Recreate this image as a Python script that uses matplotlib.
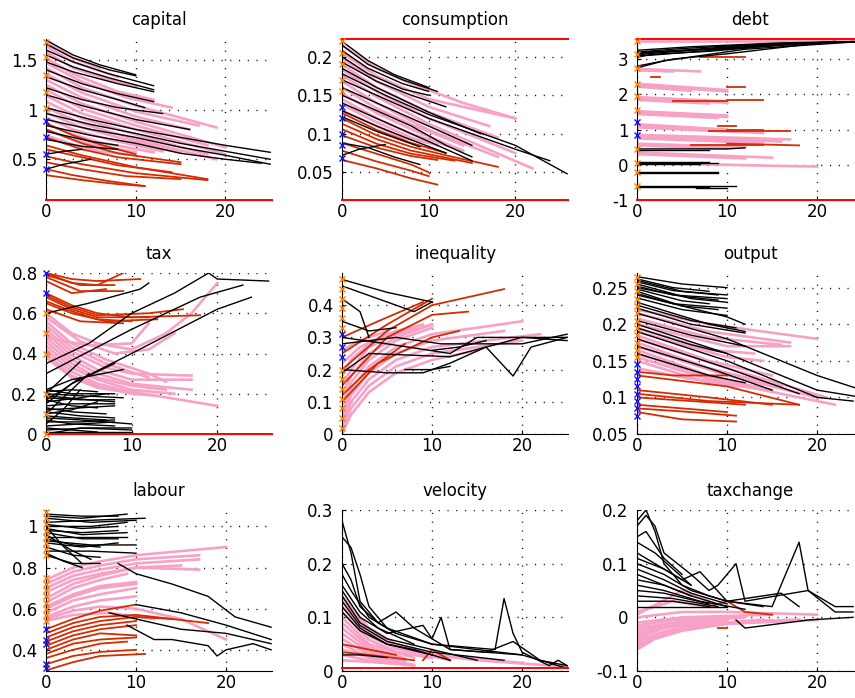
import matplotlib
matplotlib.use("Agg")
import matplotlib.pyplot as plt
from matplotlib.ticker import FormatStrFormatter

plt.rcParams['font.family'] = ['DejaVu Sans']
plt.rcParams['font.size'] = 12

BLACK = '#000000'
PINK = '#F7A1C6'
RED = '#D42C00'
BOUND = '#FF0000'
ORANGE = '#FF8000'
BLUE = '#1010FF'

# ---------------- capital ----------------
capital_black = [
    [(0, 1.70), (3, 1.55), (6, 1.45), (10, 1.35)],
    [(0, 1.66), (3, 1.52), (7, 1.40), (10, 1.34)],
    [(0, 1.60), (3, 1.48), (7, 1.36), (12, 1.24)],
    [(0, 1.55), (3, 1.43), (7, 1.32), (12, 1.20)],
    [(0, 1.48), (3, 1.38), (8, 1.26), (12, 1.18)],
    [(0, 1.40), (4, 1.26), (8, 1.16), (12, 1.08)],
    [(0, 1.33), (4, 1.20), (8, 1.10), (11, 1.02)],
    [(0, 1.22), (4, 1.10), (8, 1.02), (13, 0.96)],
    [(0, 1.15), (4, 1.04), (10, 0.90), (16, 0.80)],
    [(0, 1.02), (5, 0.90), (10, 0.80), (15, 0.72), (20, 0.64), (25, 0.57)],
    [(0, 0.96), (5, 0.85), (10, 0.76), (15, 0.66), (20, 0.58), (25, 0.50)],
    [(0, 0.90), (5, 0.80), (10, 0.72), (15, 0.62), (20, 0.54), (25, 0.45)],
    [(0, 0.84), (5, 0.74), (10, 0.66), (15, 0.56), (20, 0.50), (24, 0.46)],
    [(0, 0.78), (5, 0.68), (8, 0.64)],
    [(0, 0.70), (4, 0.63), (8, 0.60)],
    [(0, 0.55), (2, 0.58), (4, 0.60)],
    [(0, 0.40), (2, 0.45), (5, 0.50)],
]
capital_pink = [
    [(0, 1.68), (3, 1.52), (6, 1.42)],
    [(0, 1.64), (3, 1.48), (8, 1.33)],
    [(0, 1.58), (3, 1.42), (7, 1.30), (10, 1.24)],
    [(0, 1.52), (3, 1.36), (8, 1.18), (12, 1.10)],
    [(0, 1.47), (4, 1.28), (9, 1.12), (14, 1.02)],
    [(0, 1.42), (4, 1.22), (10, 1.04), (19, 0.82)],
    [(0, 1.36), (4, 1.17), (10, 0.98), (17, 0.84)],
    [(0, 1.30), (4, 1.12), (10, 0.93), (16, 0.80)],
    [(0, 1.25), (4, 1.06), (10, 0.88), (20, 0.62)],
    [(0, 1.20), (4, 1.01), (10, 0.84), (18, 0.64)],
    [(0, 1.14), (4, 0.96), (10, 0.80), (20, 0.55)],
    [(0, 1.08), (4, 0.91), (10, 0.75), (18, 0.55)],
    [(0, 1.02), (4, 0.86), (10, 0.70), (19, 0.50)],
    [(0, 0.97), (4, 0.82), (8, 0.72), (15, 0.57)],
    [(0, 0.92), (3, 0.80), (7, 0.70), (13, 0.58)],
    [(0, 0.86), (3, 0.75), (6, 0.67), (12, 0.57)],
    [(0, 0.80), (3, 0.70), (6, 0.63), (10, 0.57)],
    [(0, 0.74), (3, 0.65), (6, 0.58), (9, 0.55)],
]
capital_red = [
    [(0, 0.86), (3, 0.74), (6, 0.65), (10, 0.55)],
    [(0, 0.80), (4, 0.66), (8, 0.56), (15, 0.47)],
    [(0, 0.72), (4, 0.60), (8, 0.52), (15, 0.45)],
    [(0, 0.64), (4, 0.54), (10, 0.42), (18, 0.30)],
    [(0, 0.60), (4, 0.52), (8, 0.44), (14, 0.37)],
    [(0, 0.53), (4, 0.45), (10, 0.36), (18, 0.29)],
    [(0, 0.47), (4, 0.40), (9, 0.33), (15, 0.30)],
    [(0, 0.40), (3, 0.34), (7, 0.28), (11, 0.23)],
    [(0, 0.34), (4, 0.29), (8, 0.25), (11, 0.23)],
]
capital_orange = [1.68, 1.53, 1.35, 1.18, 1.02]
capital_blue = [0.88, 0.72, 0.55, 0.40]
capital_bounds = [0.09]

# ---------------- consumption ----------------
consumption_black = [
    [(0, 0.220), (3, 0.195), (6, 0.177), (10, 0.160)],
    [(0, 0.215), (3, 0.190), (7, 0.170), (11, 0.155)],
    [(0, 0.208), (3, 0.185), (7, 0.165), (10, 0.155)],
    [(0, 0.200), (3, 0.178), (7, 0.158), (10, 0.150)],
    [(0, 0.193), (4, 0.168), (8, 0.150), (12, 0.135)],
    [(0, 0.185), (4, 0.160), (10, 0.128), (16, 0.100)],
    [(0, 0.178), (5, 0.150), (10, 0.125), (15, 0.105), (20, 0.085), (26, 0.048)],
    [(0, 0.170), (5, 0.145), (10, 0.120), (15, 0.100), (20, 0.080), (24, 0.065)],
    [(0, 0.160), (4, 0.140), (8, 0.120), (12, 0.100), (15, 0.085)],
    [(0, 0.150), (4, 0.130), (8, 0.110), (12, 0.085), (15, 0.070)],
    [(0, 0.140), (4, 0.120), (8, 0.100), (13, 0.075), (15, 0.065)],
    [(0, 0.130), (4, 0.110), (8, 0.092), (12, 0.075)],
    [(0, 0.122), (4, 0.103), (9, 0.083)],
    [(0, 0.088), (3, 0.082), (6, 0.070), (9, 0.060)],
    [(0, 0.072), (2, 0.080), (5, 0.086)],
]
consumption_pink = [
    [(0, 0.215), (4, 0.185), (8, 0.165), (14, 0.140), (20, 0.120)],
    [(0, 0.205), (4, 0.175), (10, 0.145), (20, 0.120)],
    [(0, 0.198), (4, 0.168), (10, 0.135), (17, 0.110)],
    [(0, 0.190), (4, 0.160), (10, 0.128), (18, 0.095)],
    [(0, 0.183), (4, 0.155), (10, 0.120), (20, 0.075)],
    [(0, 0.176), (4, 0.148), (10, 0.113), (22, 0.055)],
    [(0, 0.168), (4, 0.140), (10, 0.105), (18, 0.070)],
    [(0, 0.160), (4, 0.133), (8, 0.112), (14, 0.085)],
    [(0, 0.152), (4, 0.127), (8, 0.106), (14, 0.078)],
    [(0, 0.145), (4, 0.120), (8, 0.100), (12, 0.085)],
    [(0, 0.138), (4, 0.115), (8, 0.095), (11, 0.085)],
    [(0, 0.130), (4, 0.110), (7, 0.095), (10, 0.088)],
]
consumption_red = [
    [(0, 0.127), (4, 0.105), (8, 0.088), (12, 0.075)],
    [(0, 0.120), (4, 0.098), (8, 0.083), (12, 0.072), (18, 0.057)],
    [(0, 0.113), (4, 0.093), (8, 0.078), (15, 0.062)],
    [(0, 0.106), (4, 0.087), (8, 0.074), (13, 0.065)],
    [(0, 0.098), (4, 0.082), (8, 0.071), (11, 0.066)],
    [(0, 0.088), (4, 0.074), (8, 0.060), (10, 0.050)],
    [(0, 0.078), (4, 0.064), (8, 0.052), (10, 0.045)],
    [(0, 0.066), (4, 0.055), (8, 0.042), (11, 0.034)],
]
consumption_orange = [0.220, 0.205, 0.190, 0.170, 0.155]
consumption_blue = [0.135, 0.120, 0.100, 0.085, 0.068]
consumption_bounds = [0.014, 0.223]

# ---------------- debt ----------------
debt_black = [
    [(0, 3.05), (1, 3.10), (10, 3.28), (22, 3.50)],
    [(0, 3.08), (2, 3.14), (8, 3.22), (15, 3.38), (24, 3.50)],
    [(0, 3.10), (1, 3.15), (10, 3.32), (22, 3.50)],
    [(0, 3.15), (2, 3.20), (12, 3.38), (25, 3.50)],
    [(0, 3.18), (3, 3.22), (10, 3.30), (18, 3.45)],
    [(0, 3.20), (5, 3.30), (14, 3.42), (25, 3.50)],
    [(0, 3.25), (6, 3.35), (16, 3.46), (25, 3.50)],
    [(0, 2.75), (3, 2.95), (12, 3.28), (25, 3.50)],
    [(0, 2.80), (4, 3.00), (10, 3.15), (20, 3.45)],
    [(0, 0.45), (10, 0.45), (12, 0.48)],
    [(0, 0.42), (8, 0.42)],
    [(0, 0.08), (8, 0.08)],
    [(0, 0.05), (9, 0.05)],
    [(0, 0.02), (7, 0.02)],
    [(0, -0.20), (9, -0.20)],
    [(0, -0.23), (9, -0.23)],
    [(0, -0.60), (11, -0.60)],
    [(0, -0.63), (8, -0.63)],
    [(6.5, -0.66), (10, -0.66)],
]
debt_pink = [
    [(0, 3.50), (25, 3.50)],
    [(0, 2.72), (7, 2.65)],
    [(0, 2.68), (4, 2.65)],
    [(0, 2.30), (10, 2.12)],
    [(0, 2.26), (10, 2.08)],
    [(0, 2.22), (6, 2.10)],
    [(0, 1.92), (10, 1.80)],
    [(0, 1.88), (10, 1.76)],
    [(0, 1.84), (8, 1.74)],
    [(0, 1.52), (10, 1.40)],
    [(0, 1.48), (10, 1.36)],
    [(0, 1.44), (9, 1.33)],
    [(0, 1.15), (10, 1.00)],
    [(0, 1.10), (10, 0.96)],
    [(0, 1.06), (14, 0.90)],
    [(0, 0.85), (17, 0.72)],
    [(0, 0.80), (16, 0.66)],
    [(0, 0.75), (14, 0.62)],
    [(0, 0.60), (12, 0.50)],
    [(0, 0.55), (10, 0.46)],
    [(0, 0.35), (15, 0.20)],
    [(0, 0.30), (12, 0.18)],
    [(0, 0.05), (10, 0.00), (15, -0.03), (20, -0.05)],
]
debt_red = [
    [(7, 3.05), (12, 3.05)],
    [(1.5, 2.50), (2.5, 2.50)],
    [(10, 2.20), (12, 2.20)],
    [(4, 1.80), (10, 1.80)],
    [(10, 1.85), (14, 1.85)],
    [(9, 1.10), (11, 1.10)],
    [(8, 0.95), (17, 0.95)],
    [(10, 1.00), (14, 1.00)],
    [(6, 0.55), (14, 0.55)],
    [(10, 0.60), (18, 0.55)],
]
debt_orange = [3.50, 3.15, 2.75, 2.30, 1.95, 1.55, 0.45, 0.05, -0.20, -0.60]
debt_blue = [1.20, 0.85]
debt_bounds = [-1.0, 3.57]

# ---------------- tax ----------------
tax_black = [
    [(0, 0.35), (5, 0.45), (10, 0.60), (15, 0.70), (19, 0.80), (20, 0.77), (26, 0.76)],
    [(0, 0.30), (10, 0.52), (18, 0.68), (23, 0.74)],
    [(3, 0.25), (10, 0.40), (20, 0.62), (24, 0.68)],
    [(0, 0.60), (5, 0.65), (11, 0.72), (12, 0.75)],
    [(0, 0.22), (3, 0.20), (8, 0.20)],
    [(0, 0.21), (3, 0.22), (6, 0.21)],
    [(0, 0.20), (4, 0.19), (9, 0.18)],
    [(0, 0.19), (5, 0.17), (8, 0.16)],
    [(0, 0.18), (4, 0.17), (8, 0.17)],
    [(0, 0.17), (3, 0.14), (6, 0.13)],
    [(0, 0.16), (4, 0.18), (7, 0.20)],
    [(0, 0.14), (3, 0.15), (8, 0.15)],
    [(0, 0.13), (3, 0.11), (7, 0.10)],
    [(0, 0.12), (4, 0.13), (8, 0.14)],
    [(0, 0.11), (4, 0.09), (8, 0.08)],
    [(0, 0.10), (3, 0.12), (6, 0.16)],
    [(0, 0.09), (3, 0.08), (7, 0.07)],
    [(0, 0.08), (4, 0.07), (10, 0.05)],
    [(0, 0.07), (3, 0.05), (8, 0.04)],
    [(0, 0.06), (4, 0.06), (8, 0.07)],
    [(0, 0.04), (4, 0.05), (8, 0.06)],
    [(0, 0.03), (3, 0.02), (6, 0.01)],
    [(0, 0.02), (5, 0.03), (10, 0.03)],
    [(0, 0.01), (4, 0.01), (10, 0.01)],
    [(0, 0.00), (4, 0.03), (10, 0.02)],
    [(0, 0.10), (2, 0.18), (5, 0.30)],
    [(0, 0.15), (3, 0.25), (8, 0.35)],
    [(0, 0.17), (2, 0.22), (4, 0.28)],
    [(0, 0.20), (2, 0.28), (4, 0.36)],
    [(0, 0.22), (3, 0.27), (9, 0.32)],
    [(0, 0.05), (2, 0.12), (4, 0.22)],
]
tax_pink = [
    [(0, 0.60), (3, 0.50), (6, 0.45), (10, 0.42), (14, 0.50), (17, 0.60), (20, 0.75)],
    [(0, 0.58), (4, 0.46), (8, 0.40), (12, 0.42), (15, 0.50)],
    [(0, 0.56), (3, 0.45), (7, 0.37), (12, 0.30), (14, 0.26)],
    [(0, 0.54), (3, 0.43), (7, 0.35), (12, 0.28)],
    [(0, 0.52), (3, 0.41), (7, 0.33), (10, 0.30), (17, 0.29)],
    [(0, 0.50), (3, 0.39), (6, 0.32), (10, 0.27), (17, 0.27)],
    [(0, 0.48), (3, 0.37), (6, 0.30), (10, 0.25), (17, 0.22)],
    [(0, 0.46), (3, 0.35), (6, 0.28), (10, 0.24), (14, 0.22)],
    [(0, 0.44), (3, 0.33), (6, 0.27), (10, 0.22), (15, 0.20)],
    [(0, 0.42), (3, 0.31), (6, 0.25), (10, 0.21), (20, 0.14)],
    [(0, 0.40), (3, 0.29), (6, 0.24), (10, 0.20), (13, 0.19)],
    [(0, 0.38), (3, 0.28), (6, 0.23), (9, 0.21)],
    [(0, 0.48), (5, 0.44), (10, 0.45), (12, 0.55)],
]
tax_red = [
    [(0, 0.80), (3, 0.77), (6, 0.76), (11, 0.77)],
    [(0, 0.80), (3, 0.75), (6, 0.74), (9, 0.80)],
    [(0, 0.79), (4, 0.74), (8, 0.74)],
    [(0, 0.78), (4, 0.71), (9, 0.71)],
    [(0, 0.76), (3, 0.70), (7, 0.72)],
    [(0, 0.70), (3, 0.64), (6, 0.60), (10, 0.58), (18, 0.59)],
    [(0, 0.69), (3, 0.63), (6, 0.59), (12, 0.60), (16, 0.62)],
    [(0, 0.68), (3, 0.62), (6, 0.58), (12, 0.58)],
    [(0, 0.66), (3, 0.61), (6, 0.57), (10, 0.56)],
    [(0, 0.65), (3, 0.60), (7, 0.56), (13, 0.57)],
    [(0, 0.62), (4, 0.56), (9, 0.55)],
]
tax_orange = [0.60, 0.50, 0.40, 0.20, 0.10, 0.00]
tax_blue = [0.80, 0.70]
tax_bounds = [0.0]

# ---------------- inequality ----------------
inequality_black = [
    [(0, 0.48), (5, 0.44), (10, 0.41)],
    [(0, 0.46), (4, 0.42), (8, 0.38), (10, 0.41)],
    [(0, 0.42), (2, 0.38), (3, 0.30)],
    [(0, 0.30), (5, 0.28), (12, 0.25), (15, 0.30), (25, 0.30)],
    [(0, 0.28), (6, 0.30), (11, 0.28), (20, 0.28), (25, 0.31)],
    [(0, 0.20), (5, 0.19), (9, 0.19), (12, 0.22), (16, 0.27), (19, 0.18), (21, 0.27), (25, 0.30)],
    [(0, 0.19), (3, 0.25), (12, 0.24), (20, 0.30), (25, 0.29)],
    [(7, 0.20), (10, 0.20), (12, 0.21)],
    [(10, 0.26), (13, 0.27), (16, 0.29)],
    [(0, 0.35), (3, 0.32), (6, 0.33)],
]
inequality_pink = [
    [(0, 0.00), (1, 0.06), (3, 0.13), (6, 0.19), (10, 0.23), (15, 0.26)],
    [(0, 0.01), (1, 0.08), (3, 0.15), (6, 0.21), (10, 0.25), (20, 0.29)],
    [(0, 0.02), (1, 0.10), (3, 0.17), (6, 0.23), (10, 0.27), (22, 0.31)],
    [(0, 0.04), (1, 0.12), (3, 0.19), (6, 0.25), (10, 0.29), (18, 0.32)],
    [(0, 0.06), (1, 0.14), (3, 0.21), (6, 0.27), (10, 0.31), (20, 0.35)],
    [(0, 0.09), (1, 0.16), (3, 0.23), (6, 0.29), (10, 0.33)],
    [(0, 0.12), (1, 0.18), (3, 0.25), (6, 0.30), (10, 0.34)],
    [(0, 0.15), (1, 0.20), (3, 0.27), (6, 0.31), (10, 0.34)],
    [(0, 0.18), (1, 0.23), (3, 0.28), (6, 0.32), (9, 0.34)],
    [(0, 0.22), (2, 0.27), (5, 0.31), (8, 0.33)],
    [(0, 0.26), (2, 0.29), (5, 0.32)],
]
inequality_red = [
    [(0, 0.20), (5, 0.32), (10, 0.40), (18, 0.45)],
    [(0, 0.15), (5, 0.30), (10, 0.37), (14, 0.38)],
    [(0, 0.25), (5, 0.34), (10, 0.42)],
    [(0, 0.10), (4, 0.22), (10, 0.30), (13, 0.32)],
    [(0, 0.30), (4, 0.35), (9, 0.41)],
    [(0, 0.12), (3, 0.20), (7, 0.28)],
]
inequality_orange = [0.48, 0.45, 0.42, 0.39, 0.36, 0.33, 0.20, 0.17, 0.14, 0.11, 0.08, 0.05, 0.02]
inequality_blue = [0.31, 0.27, 0.24]
inequality_bounds = []

# ---------------- output ----------------
output_black = [
    [(0, 0.265), (5, 0.255), (10, 0.250)],
    [(0, 0.262), (4, 0.250), (8, 0.245)],
    [(0, 0.260), (5, 0.245), (10, 0.240)],
    [(0, 0.258), (4, 0.246), (9, 0.240)],
    [(0, 0.255), (6, 0.235), (10, 0.230)],
    [(0, 0.252), (4, 0.240), (10, 0.235)],
    [(0, 0.250), (5, 0.238), (9, 0.233)],
    [(0, 0.248), (5, 0.232), (8, 0.228)],
    [(0, 0.245), (5, 0.225), (9, 0.220)],
    [(0, 0.242), (4, 0.228), (10, 0.222)],
    [(0, 0.240), (10, 0.210), (12, 0.200)],
    [(0, 0.236), (5, 0.220), (10, 0.212)],
    [(0, 0.230), (8, 0.200), (12, 0.190)],
    [(0, 0.226), (6, 0.205), (11, 0.195)],
    [(0, 0.222), (6, 0.200), (12, 0.188)],
    [(0, 0.215), (10, 0.180), (20, 0.130), (25, 0.110)],
    [(0, 0.205), (6, 0.185), (12, 0.170)],
    [(0, 0.200), (10, 0.160), (20, 0.110), (25, 0.100)],
    [(0, 0.195), (6, 0.172), (10, 0.160)],
    [(0, 0.190), (10, 0.150), (20, 0.100), (24, 0.095)],
    [(0, 0.180), (10, 0.140), (18, 0.105)],
    [(0, 0.170), (8, 0.140), (15, 0.110)],
    [(0, 0.160), (8, 0.130), (12, 0.120)],
]
output_pink = [
    [(0, 0.220), (8, 0.200), (20, 0.180)],
    [(0, 0.215), (8, 0.190), (17, 0.175)],
    [(0, 0.208), (8, 0.182), (16, 0.172)],
    [(0, 0.200), (10, 0.170), (17, 0.170)],
    [(0, 0.195), (8, 0.165), (13, 0.160)],
    [(0, 0.190), (10, 0.155), (14, 0.150)],
    [(0, 0.185), (8, 0.150), (15, 0.130)],
    [(0, 0.180), (10, 0.140), (21, 0.100)],
    [(0, 0.175), (8, 0.140), (16, 0.115)],
    [(0, 0.170), (10, 0.130), (20, 0.100)],
    [(0, 0.165), (8, 0.130), (14, 0.112)],
    [(0, 0.160), (10, 0.120), (22, 0.090)],
    [(0, 0.155), (8, 0.125), (13, 0.115)],
    [(0, 0.150), (8, 0.120), (15, 0.110)],
    [(0, 0.140), (6, 0.125), (10, 0.120)],
]
output_red = [
    [(0, 0.135), (4, 0.130), (10, 0.130)],
    [(0, 0.130), (10, 0.115), (18, 0.090)],
    [(0, 0.110), (8, 0.100), (15, 0.090)],
    [(0, 0.105), (8, 0.095), (18, 0.090)],
    [(0, 0.100), (6, 0.095), (12, 0.090)],
    [(0, 0.090), (5, 0.085), (10, 0.080)],
    [(0, 0.085), (6, 0.080), (11, 0.075)],
    [(0, 0.080), (5, 0.070), (11, 0.067)],
]
output_orange = [0.265, 0.255, 0.245, 0.235, 0.225, 0.215, 0.205, 0.195, 0.185, 0.175, 0.165, 0.155]
output_blue = [0.145, 0.135, 0.125, 0.115, 0.105, 0.095, 0.085, 0.075]
output_bounds = []

# ---------------- labour ----------------
labour_black = [
    [(0, 1.06), (4, 1.05), (8, 1.05)],
    [(0, 1.05), (4, 1.04), (9, 1.06)],
    [(0, 1.04), (5, 1.02), (10, 1.03)],
    [(0, 1.02), (5, 1.03), (11, 1.04)],
    [(0, 1.01), (4, 0.99), (8, 1.00)],
    [(0, 1.00), (5, 1.00), (9, 1.02)],
    [(0, 0.99), (4, 0.96), (9, 0.97)],
    [(0, 0.98), (4, 0.97), (8, 0.98)],
    [(0, 0.97), (4, 0.94), (8, 0.94)],
    [(0, 0.96), (3, 0.88), (5, 0.84)],
    [(0, 0.95), (5, 0.95), (9, 0.95)],
    [(0, 0.94), (3, 0.91), (6, 0.90)],
    [(0, 0.93), (5, 0.91), (10, 0.91)],
    [(0, 0.92), (4, 0.90), (8, 0.92)],
    [(0, 0.90), (3, 0.86), (6, 0.85)],
    [(0, 0.88), (5, 0.88), (10, 0.87)],
    [(0, 0.87), (2, 0.83), (4, 0.80)],
    [(0, 0.86), (3, 0.82), (6, 0.82)],
    [(0, 1.00), (2, 0.90), (4, 0.82)],
    [(8, 0.82), (10, 0.77), (14, 0.72), (18, 0.66), (21, 0.56), (25, 0.51)],
    [(10, 0.62), (15, 0.58), (20, 0.52), (25, 0.45)],
    [(9, 0.52), (12, 0.45), (14, 0.45), (18, 0.42), (19, 0.37), (20, 0.40), (23, 0.43), (25, 0.40)],
    [(7, 0.58), (10, 0.55), (15, 0.50), (20, 0.48), (25, 0.43)],
]
labour_pink = [
    [(0, 0.74), (3, 0.80), (6, 0.83), (10, 0.86), (20, 0.90)],
    [(0, 0.72), (3, 0.78), (6, 0.81), (10, 0.84), (17, 0.86)],
    [(0, 0.70), (3, 0.76), (6, 0.79), (10, 0.82), (17, 0.84)],
    [(0, 0.68), (3, 0.74), (6, 0.77), (10, 0.80), (15, 0.81)],
    [(0, 0.65), (3, 0.72), (6, 0.76), (10, 0.80), (17, 0.79)],
    [(0, 0.63), (3, 0.70), (6, 0.74), (9, 0.77)],
    [(0, 0.61), (3, 0.67), (6, 0.71), (10, 0.73)],
    [(0, 0.60), (3, 0.66), (6, 0.70), (10, 0.72)],
    [(0, 0.58), (3, 0.64), (6, 0.67), (10, 0.70)],
    [(0, 0.56), (3, 0.61), (6, 0.64), (10, 0.66)],
    [(0, 0.55), (3, 0.59), (6, 0.61), (10, 0.60), (15, 0.55), (20, 0.45)],
    [(0, 0.54), (3, 0.57), (7, 0.58), (12, 0.55)],
]
labour_red = [
    [(0, 0.50), (3, 0.55), (6, 0.59), (10, 0.62)],
    [(0, 0.48), (3, 0.53), (6, 0.56), (10, 0.57), (18, 0.53)],
    [(0, 0.46), (3, 0.51), (6, 0.54), (10, 0.56), (14, 0.55)],
    [(0, 0.44), (3, 0.49), (6, 0.52), (10, 0.54)],
    [(0, 0.42), (3, 0.47), (6, 0.50), (10, 0.52)],
    [(0, 0.40), (3, 0.45), (6, 0.48), (10, 0.47)],
    [(0, 0.38), (3, 0.43), (6, 0.45), (10, 0.46)],
    [(0, 0.36), (3, 0.40), (6, 0.43), (9, 0.44)],
    [(0, 0.33), (3, 0.37), (6, 0.39), (10, 0.40)],
    [(0, 0.30), (3, 0.34), (6, 0.37), (11, 0.38)],
]
labour_orange = [1.07, 1.04, 1.01, 0.98, 0.95, 0.92, 0.89, 0.86, 0.75, 0.72, 0.69, 0.66, 0.63, 0.60, 0.57, 0.54]
labour_blue = [0.50, 0.45, 0.43, 0.33, 0.31]
labour_bounds = []

# ---------------- velocity ----------------
velocity_black = [
    [(0, 0.28), (1, 0.22), (2, 0.13), (4, 0.09), (6, 0.07), (10, 0.05), (15, 0.04), (20, 0.03), (25, 0.005)],
    [(0, 0.25), (1, 0.23), (2, 0.18), (3, 0.12), (5, 0.08), (10, 0.05), (17, 0.04), (18, 0.135),
     (19, 0.07), (20, 0.035), (23, 0.01), (24, 0.02), (25, 0.01)],
    [(0, 0.20), (1, 0.17), (2, 0.12), (4, 0.09), (6, 0.11), (8, 0.08), (10, 0.06), (11, 0.10),
     (12, 0.04), (20, 0.03)],
    [(0, 0.18), (1, 0.15), (3, 0.10), (6, 0.07)],
    [(0, 0.16), (2, 0.11), (4, 0.08), (8, 0.05)],
    [(0, 0.15), (2, 0.10), (5, 0.07), (9, 0.085), (10, 0.06), (12, 0.04), (16, 0.035), (19, 0.055),
     (22, 0.02), (25, 0.01)],
    [(0, 0.14), (2, 0.09), (5, 0.06), (10, 0.04), (15, 0.02)],
    [(0, 0.13), (2, 0.085), (5, 0.055), (10, 0.035), (18, 0.02)],
    [(0, 0.12), (2, 0.08), (5, 0.05), (8, 0.04), (12, 0.02)],
    [(0, 0.11), (2, 0.075), (5, 0.05), (10, 0.03)],
    [(0, 0.03), (2, 0.03), (5, 0.025)],
]
velocity_pink = [
    [(0, 0.14), (3, 0.08), (6, 0.05), (10, 0.03), (15, 0.02), (25, 0.008)],
    [(0, 0.13), (3, 0.075), (6, 0.047), (10, 0.03), (20, 0.015)],
    [(0, 0.12), (3, 0.065), (6, 0.042), (12, 0.02)],
    [(0, 0.11), (3, 0.058), (6, 0.036), (10, 0.024)],
    [(0, 0.10), (3, 0.050), (8, 0.025)],
    [(0, 0.09), (3, 0.045), (7, 0.024)],
    [(0, 0.08), (3, 0.040), (7, 0.020)],
    [(0, 0.07), (3, 0.035), (7, 0.018)],
    [(0, 0.06), (3, 0.030), (7, 0.015)],
    [(0, 0.05), (3, 0.025), (7, 0.013)],
    [(0, 0.04), (4, 0.020), (8, 0.012)],
    [(0, 0.03), (4, 0.016), (8, 0.010)],
    [(0, 0.02), (5, 0.015)],
]
velocity_red = [
    [(0, 0.05), (3, 0.04), (6, 0.03)],
    [(0, 0.035), (3, 0.03), (8, 0.02)],
    [(9, 0.02), (10, 0.04), (12, 0.02)],
]
velocity_orange = []
velocity_blue = []
velocity_bounds = [0.005]

# ---------------- taxchange ----------------
taxchange_black = [
    [(0, 0.18), (1, 0.20), (2, 0.16), (3, 0.10), (5, 0.06), (8, 0.04), (10, 0.03), (15, 0.02),
     (18, 0.14), (19, 0.05), (22, 0.01), (24, 0.01)],
    [(0, 0.17), (1, 0.19), (2, 0.17), (3, 0.12), (6, 0.08), (8, 0.05), (9, 0.06), (11, 0.10),
     (12, 0.03), (19, 0.05), (22, 0.02), (24, 0.02)],
    [(0, 0.15), (1, 0.16), (3, 0.11), (5, 0.08)],
    [(0, 0.14), (2, 0.12), (4, 0.09), (6, 0.06)],
    [(0, 0.12), (2, 0.10), (5, 0.07), (7, 0.085), (10, 0.03), (16, 0.045), (18, 0.02)],
    [(0, 0.11), (3, 0.09), (6, 0.06)],
    [(0, 0.10), (3, 0.08), (6, 0.05), (10, 0.03), (14, 0.02)],
    [(0, 0.09), (3, 0.07), (6, 0.045), (10, 0.025)],
    [(0, 0.08), (3, 0.06), (6, 0.04), (10, 0.02)],
    [(0, 0.07), (3, 0.06), (6, 0.04)],
    [(0, 0.06), (3, 0.05), (7, 0.03), (12, 0.015)],
    [(0, 0.05), (3, 0.045), (8, 0.025)],
    [(0, 0.04), (4, 0.035), (9, 0.02)],
    [(0, 0.03), (4, 0.03), (8, 0.02)],
    [(0, 0.02), (5, 0.02), (10, 0.02)],
    [(11, -0.005), (12, -0.02), (19, -0.005), (24, 0.0)],
]
taxchange_pink = [
    [(0, -0.06), (2, -0.04), (5, -0.025), (10, -0.012), (20, -0.005)],
    [(0, -0.055), (2, -0.037), (5, -0.022), (10, -0.010), (18, -0.004)],
    [(0, -0.05), (3, -0.03), (8, -0.015), (15, -0.005)],
    [(0, -0.045), (3, -0.026), (8, -0.012), (14, -0.004)],
    [(0, -0.04), (3, -0.02), (8, -0.01)],
    [(0, -0.035), (3, -0.017), (8, -0.008)],
    [(0, -0.03), (4, -0.015), (10, -0.005)],
    [(0, -0.025), (4, -0.012), (10, -0.003)],
    [(0, -0.02), (4, -0.01), (12, 0.0)],
    [(0, -0.015), (4, -0.005), (12, 0.002)],
    [(0, -0.01), (5, 0.0), (15, 0.005)],
    [(0, 0.0), (5, 0.01), (10, 0.01), (20, 0.005)],
    [(0, 0.01), (4, 0.03), (8, 0.02)],
    [(0, 0.005), (5, 0.05), (8, 0.03)],
]
taxchange_red = [
    [(8, 0.02), (10, 0.03), (12, 0.01), (15, 0.005)],
    [(9, -0.02), (10, -0.02)],
]
taxchange_orange = []
taxchange_blue = []
taxchange_bounds = []

panels = [
    ("capital", capital_black, capital_pink, capital_red, capital_orange, capital_blue, capital_bounds,
     (0, 25.2), (0.09, 1.71), [0.5, 1, 1.5]),
    ("consumption", consumption_black, consumption_pink, consumption_red, consumption_orange,
     consumption_blue, consumption_bounds, (0, 26.1), (0.014, 0.223), [0.05, 0.1, 0.15, 0.2]),
    ("debt", debt_black, debt_pink, debt_red, debt_orange, debt_blue, debt_bounds,
     (0, 25.1), (-1, 3.57), [-1, 0, 1, 2, 3]),
    ("tax", tax_black, tax_pink, tax_red, tax_orange, tax_blue, tax_bounds,
     (0, 26.4), (0, 0.8), [0, 0.2, 0.4, 0.6, 0.8]),
    ("inequality", inequality_black, inequality_pink, inequality_red, inequality_orange,
     inequality_blue, inequality_bounds, (0, 25.1), (0, 0.5), [0, 0.1, 0.2, 0.3, 0.4]),
    ("output", output_black, output_pink, output_red, output_orange, output_blue, output_bounds,
     (0, 25.1), (0.05, 0.27), [0.05, 0.1, 0.15, 0.2, 0.25]),
    ("labour", labour_black, labour_pink, labour_red, labour_orange, labour_blue, labour_bounds,
     (0, 25.1), (0.297, 1.08), [0.4, 0.6, 0.8, 1]),
    ("velocity", velocity_black, velocity_pink, velocity_red, velocity_orange, velocity_blue,
     velocity_bounds, (0, 25.1), (0, 0.3), [0, 0.1, 0.2, 0.3]),
    ("taxchange", taxchange_black, taxchange_pink, taxchange_red, taxchange_orange, taxchange_blue,
     taxchange_bounds, (0, 25.1), (-0.1, 0.2), [-0.1, 0, 0.1, 0.2]),
]

W, H = 855, 698
fig = plt.figure(figsize=(W / 100, H / 100), dpi=100)

col_left = [46, 342, 637]
row_top = [39, 273, 510]
aw, ah = 226, 161


def draw(ax, lines, color, lw):
    for ln in lines:
        xs = [p[0] for p in ln]
        ys = [p[1] for p in ln]
        ax.plot(xs, ys, color=color, lw=lw)


for i, (title, blk, pnk, red, orn, blu, bounds, xl, yl, yt) in enumerate(panels):
    r, c = divmod(i, 3)
    ax = fig.add_axes([col_left[c] / W, 1 - (row_top[r] + ah) / H, aw / W, ah / H])
    draw(ax, pnk, PINK, 1.9)
    draw(ax, red, RED, 1.3)
    draw(ax, blk, BLACK, 1.0)
    for b in bounds:
        ax.plot([0, xl[1]], [b, b], color=BOUND, lw=1.4, clip_on=False, zorder=5)
        if b == yl[0]:
            # the bound lies on the x axis, so the axis line shows it
            ax.spines['bottom'].set_color(BOUND)
    ax.plot([0] * len(orn), orn, 'x', color=ORANGE, ms=4, mew=1, clip_on=False, zorder=6)
    ax.plot([0] * len(blu), blu, 'x', color=BLUE, ms=4, mew=1, clip_on=False, zorder=6)

    ax.set_xlim(xl)
    ax.set_ylim(yl)
    ax.set_xticks([0, 10, 20])
    ax.set_yticks(yt)
    ax.yaxis.set_major_formatter(FormatStrFormatter('%g'))
    ax.spines['top'].set_visible(False)
    ax.spines['right'].set_visible(False)
    ax.tick_params(direction='in', length=3, labelsize=12)
    ax.tick_params(axis='x', pad=2)
    ax.tick_params(axis='y', pad=6)
    ax.grid(True, color='black', linestyle=(0, (0.8, 5.5)), lw=1.0)
    ax.set_axisbelow(True)
    ax.set_title(title, fontsize=12, pad=10)

fig.savefig("out.png", dpi=100)
